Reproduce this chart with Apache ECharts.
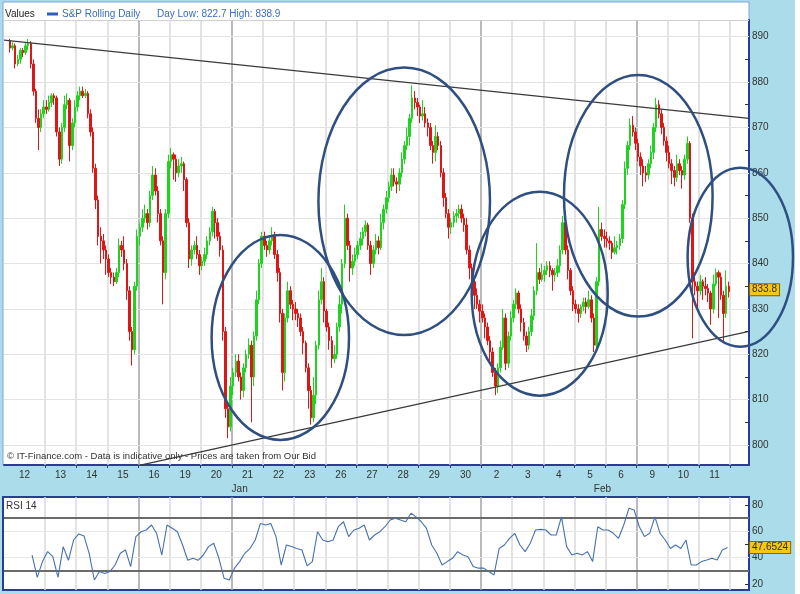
<!DOCTYPE html>
<html><head><meta charset="utf-8">
<script src="https://cdn.jsdelivr.net/npm/echarts@6/dist/echarts.min.js"></script>
<style>html,body{margin:0;padding:0;background:#aadcea;} #c{width:800px;height:594px;}</style>
</head><body><div id="c"></div>
<script>
// ---------- data ----------
const dayLabels = ['12','13','14','15','16','19','20','21','22','23','26','27','28','29','30','2','3','4','5','6','9','10','11'];
const monthLabels = ['Jan','Feb'];
const monthPos = [7.25, 18.9];           // in trading-day units
const darkDayLines = [4, 7, 15, 20];
const barsPerDay = 12;
const firstSlot = 10;                     // first bar sits late in the session before "12"
const rsiPerDay = 6;
const rsiFirstSlot = 5;
const priceLevels = [800,810,820,830,840,850,860,870,880,890];
const priceMinorTicks = [800,805,810,815,820,825,830,835,840,845,850,855,860,865,870,875,880,885,890];
const rsiLabels = [20,40,60,80];
const rsiTicks = [20,30,40,50,60,70,80];
// [open, close, low, high]
const ohlc = [
[889,887.5,886.5,889.5],[887.5,888,887,888.8],
[888,884,883,888.5],[884,885,883.5,886],[885,887,884,887.5],[887,886.5,885.5,887.5],[886.5,888,886,888.8],[888,888.5,887,889.5],
[888.5,884,883,889],[884,878,877,885],[878,872,871,878.5],[872,870,865,874],[870,873,869,874],[873,874.5,872,876],
[874.5,874,873,876],[874,875.5,873.5,877],[875.5,877,874.5,877.5],[877,876.5,875,877.5],[876.5,869,868,877],[869,863,861.5,870],
[863,870,862,871],[870,875,869,877],[875,876,874,877.5],[876,866,862.5,876.5],[866,871,865,872],[871,874.5,870,876],
[874.5,877,873.5,878],[877,878,876,879],[878,877,876.5,879],[877,877.5,876.5,878.5],[877.5,873,872,878],[873,869,868,874],
[869,861,860,870],[861,854,852,862],[854,846,844,855],[846,845,840,848],[845,843,841,846.5],[843,841,837.5,844],
[841,838,837,842],[838,837,835.5,839],[837,836,835,838],[836,838,835.5,839],[838,844,837,845.5],[844,843,841.5,845],
[843,840,838.5,846],[840,834,832,841],[834,825,823,835],[825,821,817.5,826],[821,835,820,836],[835,846,834,847.5],
[846,848,844,849],[848,850,847,852],[850,851,849,853],[851,849,847.5,852],[849,855,848,856],[855,859.5,854,861.5],
[859.5,856,855,861],[856,851,849,857],[851,845,844,852],[845,838,831,846],[838,851,836.5,852],[851,862.5,850,864],
[862.5,864,861,865.5],[864,863,858.5,864.5],[863,860,858,864],[860,861.5,859,863],[861.5,862,860,863.5],[862,858.5,856,862.5],
[858.5,849,848,859],[849,841,839,850],[841,843,839.5,844],[843,844,842,845],[844,842,841,846],[842,839.5,837.5,843],
[839.5,840.5,838.5,841.5],[840.5,842,839.5,843.5],[842,845,841,846],[845,847,844,848],[847,851.5,846,852.5],[851.5,849,845.5,852],
[849,846,845,850],[846,843,841.5,847],[843,825,823,844],[825,808,806,826],[808,804,801.5,809],[804,813,803,815],
[813,816,811,817],[816,818.5,815,820],[818.5,815,814,820],[815,812,810,816],[812,817,810.5,818],[817,820,816,821],
[820,822,819,823.5],[822,815,805,823],[815,824,813,825],[824,832,823,834],[832,840,831,841],[840,846,839,847],
[846,844,843,847],[844,843,841.5,845],[843,845,842,846],[845,846,844,848],[846,842,841,847],[842,838,836,843],
[838,829,827,839],[829,816,812,830],[816,828,814,829],[828,834,827,836],[834,831,830,835],[831,830,827.5,832],
[830,829,827.5,831.5],[829,828,826,830],[828,825,824,829],[825,822.5,820,826],[822.5,817,816,823],[817,812,808,818],
[812,806,804.5,813],[806,811,805,815],[811,822,809,823],[822,832,821,834],[832,836,831,839],[836,829.5,827,837],
[829.5,826,825,830],[826,823,821,827],[823,819,817,824],[819,820,818,822],[820,826,819,827],[826,831,825,833],
[831,840,829,841],[840,850,839,853],[850,844,843,851],[844,839,836,845],[839,840.5,837.5,842],[840.5,842,839.5,843.5],
[842,844,841,845],[844,845.5,843,847],[845.5,847,844,848],[847,848.5,846,849.5],[848.5,844,843,849],[844,840,837.5,845],
[840,843,839,844],[843,845,842,846.5],[845,843.5,842,846],[843.5,849,843,851],[849,852,847.5,853],[852,854.5,851,856],
[854.5,857,853.5,858],[857,859.5,856,861],[859.5,858,857,861],[858,857.5,855.5,859],[857.5,860,856,861],[860,863,859,864.5],
[863,866,862,867],[866,868,865,870],[868,872,866,873],[872,876.5,871,879.3],[876.5,875.5,874,878],[875.5,874.5,872.5,876.5],
[874.5,872.5,871,875],[872.5,873,871.5,876],[873,871,870,874.5],[871,870,868,872],[870,866,865,871],[866,864.5,862,867],
[864.5,868,862.5,870.5],[868,866,865,869],[866,860,859,867],[860,854.5,852.5,861],[854.5,851,850,855.5],[851,848,845.5,852],
[848,849,846.5,850],[849,850.5,848,851.5],[850.5,851,849,852],[851,852,850,853],[852,850,849,853],[850,848.5,847,851],
[848.5,843,842,850],[843,839,836.5,844],[839,836,835,840],[836,833,830,837],[833,831,830,834.5],[831,829.5,827,832],
[829.5,828,827,831],[828,826,823.5,829],[826,823,822,827],[823,820.5,818,824],[820.5,816,815,821.5],[816,813,811,817],
[813,817,811.5,818],[817,821.5,816,823],[821.5,828,821,830],[828,818,816.5,829],[818,824,817,825],[824,828,823,829.5],
[828,831,827,832],[831,833.5,830,834.5],[833.5,830,829,834],[830,827,825,831],[827,824,823,828],[824,822,820.5,825],
[822,825,821,826],[825,828.5,824,830],[828.5,834,827.5,835],[834,838,833,844.5],[838,836.5,835.5,839],[836.5,837.5,836,840],
[837.5,838.5,836,839.5],[838.5,839.5,837.5,840.5],[839.5,838.5,837,840.5],[838.5,837.5,834,839],[837.5,838,836,839],[838,839.5,837,841],
[839.5,843,838,844],[843,849,842,850.5],[849,843,842,850],[843,838.5,836.5,844],[838.5,834,833,839],[834,831,829.5,835],
[831,830,829,832],[830,829,827,831],[829,830.5,828,831],[830.5,831.5,829.5,832.5],[831.5,830.5,829,832.5],[830.5,832,830,834],
[832,828,827,833],[828,822,820.5,829],[822,836,821,837],[836,847.5,835,852.5],[847.5,846,845,849],[846,845.5,843.5,847.5],
[845.5,845,843.5,847],[845,844.5,843,846],[844.5,842.5,841,845],[842.5,843.5,842,846],[843.5,844,842,845],[844,845.5,843,846.5],
[845.5,853,844.5,854],[853,861,852,862.5],[861,866,859.5,867],[866,870.5,865,872],[870.5,869,868,872.5],[869,866.5,865,870],
[866.5,863.5,862.5,867.5],[863.5,861.5,859.5,864.5],[861.5,860,857,863],[860,859.5,858,861.5],[859.5,862,858.5,863],[862,864.5,861,866],
[864.5,870,863,871],[870,875,869,876.5],[875,873,872,876],[873,870,868.5,874],[870,867,866,871],[867,864.5,862.5,868],
[864.5,862,861,866],[862,860.5,857.5,863],[860.5,859,857,861.5],[859,862,858,864],[862,860.5,859.5,863],[860.5,859.5,856.5,861.5],
[859.5,863,858.5,864],[863,866.5,862,868],[866.5,850,849,867],[850,836,823.5,851],[836,835,833,838],[835,834,830,836],
[834,836,833,837.5],[836,835,832,836.5],[835,834.5,833,837],[834.5,833.5,831.5,835.5],[833.5,830,826.5,834],[830,835.5,829,837.5],
[835.5,838,835,838.9],[838,837,828,838.5],[837,833,832,838],[833,829,822.7,834],[829,835,828,838.5],[835,833.8,832.5,836]
];
const rsi = [
null,
null,null,null,42,25,37,
44.6,40.7,25,48.4,38,53.4,
58,56.5,43.3,23,29.4,28,
29.4,34.4,43.3,45.8,33.2,56,
59.7,61,64.8,58.5,42,64.8,
62.3,59.7,49.6,38,39.5,38,
42,48.4,51,39.5,24.3,23,
32,37,43.3,47,53.4,66,
64.8,66,56,34.4,49.6,48.4,
47,45.8,33.7,37,59.7,53.4,
52,53.4,63.5,67.3,56,61,
62.3,64.8,53.4,57.2,59.7,63.5,
68.6,70,68.6,67.3,73.7,71,
67.3,62.3,49.6,43.3,34.4,37,
39.5,44.6,42,40.7,33.2,32,
32,29.4,26.8,47,49.6,54.7,
58.5,49.6,44.6,51,61,61.5,
61,57.2,57.2,71,48.4,42,
43.3,42,44.6,37,63.5,61,
61,58.5,54.7,64.8,77.5,76.2,
63.5,56,58.5,71,58.5,53.4,
47,49.6,47,53.4,34.4,34.4,
37,38.2,39.5,38.2,45.8,47.6524
];
const upperTrend = [[-0.318, 889.25], [23.606, 872.0]];
const lowerTrend = [[4.1, 795.6], [23.606, 825.06]];
// [centre day, centre price, half width (days), half height (price)]
const ellipses = [
[8.555, 823.7, 2.206, 22.59],
[12.534, 853.72, 2.755, 29.47],
[16.885, 833.35, 2.184, 22.48],
[20.051, 854.93, 2.386, 26.63],
[23.327, 841.40, 1.692, 19.73]
];
const legendTitle = 'Values';
const seriesName = 'S&P Rolling Daily';
const dayInfo = 'Day Low: 822.7 High: 838.9';
const watermark = '\u00a9 IT-Finance.com - Data is indicative only - Prices are taken from Our Bid';
const rsiTitle = 'RSI 14';

// ---------- chart ----------
const FONT = '"Liberation Sans", Arial, sans-serif';
const NAVY = '#2b3d8f';
const xMin = -0.318, xMax = 23.606;
const slotX = (i, per, first) => -1 + (i + first + 0.5) / per;
const candleData = ohlc.map((b, i) => [slotX(i, barsPerDay, firstSlot), b[0], b[1], b[2], b[3]]);
const rsiData = rsi.map((v, i) => [slotX(i, rsiPerDay, rsiFirstSlot), v]);
const boundaries = dayLabels.map((_, d) => d + 1);
const labelPos = dayLabels.map((_, d) => d === 0 ? (xMin + 1) / 2 : d + 0.5);
const vLines = boundaries.map(d => ({xAxis: d, lineStyle: {type: 'solid', color: darkDayLines.includes(d) ? '#a3a3a3' : '#dadada', width: 1.5}}));

const chart = echarts.init(document.getElementById('c'));
chart.setOption({
  animation: false,
  grid: [
    {left: 4, top: 20, width: 745, height: 445},
    {left: 4, top: 497, width: 745, height: 93}
  ],
  xAxis: [
    {type: 'value', gridIndex: 0, min: xMin, max: xMax, position: 'bottom',
     axisLine: {show: true, onZero: false, lineStyle: {color: NAVY, width: 2}},
     axisTick: {show: true, customValues: boundaries, length: 3, lineStyle: {color: NAVY}},
     axisLabel: {customValues: labelPos, formatter: v => dayLabels[Math.floor(v)], color: '#333', fontSize: 10, fontFamily: FONT, margin: 5},
     splitLine: {show: false}},
    {type: 'value', gridIndex: 1, min: xMin, max: xMax, position: 'bottom',
     axisLine: {show: true, onZero: false, lineStyle: {color: NAVY, width: 2}},
     axisTick: {show: false}, axisLabel: {show: false}, splitLine: {show: false}}
  ],
  yAxis: [
    {type: 'value', gridIndex: 0, min: 795.59, max: 893.68, position: 'right',
     axisLine: {show: true, onZero: false, lineStyle: {color: NAVY, width: 2}},
     axisTick: {show: true, inside: true, length: 4, customValues: priceMinorTicks, lineStyle: {color: '#333'}},
     axisLabel: {customValues: priceLevels, color: '#333', fontSize: 10, fontFamily: FONT, margin: 3},
     splitLine: {show: false}},
    {type: 'value', gridIndex: 1, min: 15.4, max: 86.1, position: 'right',
     axisLine: {show: true, onZero: false, lineStyle: {color: NAVY, width: 2}},
     axisTick: {show: true, inside: true, length: 4, customValues: rsiTicks, lineStyle: {color: '#333'}},
     axisLabel: {customValues: rsiLabels, color: '#333', fontSize: 10, fontFamily: FONT, margin: 3},
     splitLine: {show: false}}
  ],
  series: [
    {type: 'line', xAxisIndex: 0, yAxisIndex: 0, data: [], silent: true,
     markLine: {z: 1, silent: true, symbol: ['none', 'none'], label: {show: false}, animation: false,
       data: vLines.concat(priceLevels.map(v => ({yAxis: v, lineStyle: {type: 'solid', color: '#e3e3e3', width: 1}})))}},
    {type: 'candlestick', xAxisIndex: 0, yAxisIndex: 0, data: candleData, barWidth: 2, z: 2,
     itemStyle: {color: '#1fd41f', color0: '#e01515', borderColor: '#1fd41f', borderColor0: '#e01515', borderWidth: 1}},
    {type: 'line', xAxisIndex: 0, yAxisIndex: 0, data: upperTrend, symbol: 'none', z: 3, silent: true,
     lineStyle: {color: '#3a3a3a', width: 1.2}},
    {type: 'line', xAxisIndex: 0, yAxisIndex: 0, data: lowerTrend, symbol: 'none', z: 3, silent: true,
     lineStyle: {color: '#3a3a3a', width: 1.2}},
    {type: 'line', xAxisIndex: 1, yAxisIndex: 1, data: [], silent: true,
     markLine: {z: 1, silent: true, symbol: ['none', 'none'], label: {show: false}, animation: false,
       data: vLines.concat([
         {yAxis: 40, lineStyle: {type: 'solid', color: '#e6e6e6', width: 1}},
         {yAxis: 60, lineStyle: {type: 'solid', color: '#e6e6e6', width: 1}},
         {yAxis: 30, lineStyle: {type: 'solid', color: '#6a6a6a', width: 2}},
         {yAxis: 70, lineStyle: {type: 'solid', color: '#6a6a6a', width: 2}}
       ])}},
    {type: 'line', xAxisIndex: 1, yAxisIndex: 1, data: rsiData, symbol: 'none', z: 3, silent: true,
     lineStyle: {color: '#4670b0', width: 1.1}}
  ]
});

// ---------- annotations ----------
const g = [];
g.push({type: 'rect', z: -10, shape: {x: 3, y: 2, width: 746, height: 463}, style: {fill: '#fff', stroke: '#7fa6d8', lineWidth: 1}});
g.push({type: 'rect', z: -10, shape: {x: 3, y: 497, width: 746, height: 93}, style: {fill: '#fff', stroke: NAVY, lineWidth: 2}});
g.push({type: 'rect', z: -9, shape: {x: 795, y: 0, width: 5, height: 594}, style: {fill: '#ffffff'}});
g.push({type: 'line', z: 1, shape: {x1: 4, y1: 20.5, x2: 749, y2: 20.5}, style: {stroke: '#d0d0d0', lineWidth: 1}});
g.push({type: 'text', z: 5, x: 5, y: 14, style: {text: legendTitle, fill: '#222', fontSize: 10, fontFamily: FONT, verticalAlign: 'middle'}});
g.push({type: 'rect', z: 5, shape: {x: 47, y: 12.5, width: 11, height: 3}, style: {fill: '#2d5fb8'}});
g.push({type: 'text', z: 5, x: 62, y: 14, style: {text: seriesName, fill: '#3a6cc0', fontSize: 10, fontFamily: FONT, verticalAlign: 'middle'}});
g.push({type: 'text', z: 5, x: 157, y: 14, style: {text: dayInfo, fill: '#3a6cc0', fontSize: 10, fontFamily: FONT, verticalAlign: 'middle'}});
g.push({type: 'text', z: 5, x: 7, y: 456, style: {text: watermark, fill: '#333', fontSize: 9.5, fontFamily: FONT, verticalAlign: 'middle'}});
g.push({type: 'text', z: 5, x: 6, y: 506, style: {text: rsiTitle, fill: '#333', fontSize: 10, fontFamily: FONT, verticalAlign: 'middle'}});
monthLabels.forEach((m, i) => {
  const p = chart.convertToPixel({xAxisIndex: 0, yAxisIndex: 0}, [monthPos[i], 800]);
  g.push({type: 'text', z: 5, x: p[0], y: 489, style: {text: m, fill: '#333', fontSize: 10, fontFamily: FONT, align: 'center', verticalAlign: 'middle'}});
});
ellipses.forEach(e => {
  const c = chart.convertToPixel({xAxisIndex: 0, yAxisIndex: 0}, [e[0], e[1]]);
  const q = chart.convertToPixel({xAxisIndex: 0, yAxisIndex: 0}, [e[0] + e[2], e[1] + e[3]]);
  g.push({type: 'ellipse', z: 20, silent: true, shape: {cx: c[0], cy: c[1], rx: q[0] - c[0], ry: c[1] - q[1]},
          style: {fill: 'none', stroke: '#2f4f80', lineWidth: 2.5}});
});
const lastClose = ohlc[ohlc.length - 1][1];
const pc = chart.convertToPixel({xAxisIndex: 0, yAxisIndex: 0}, [xMax, lastClose]);
g.push({type: 'text', z: 21, x: 750, y: pc[1] - 2, style: {text: lastClose.toFixed(1), fill: '#333', fontSize: 10, fontFamily: FONT,
  verticalAlign: 'middle', backgroundColor: '#f5c518', borderColor: '#8a6a00', borderWidth: 1, padding: [1, 2, 0, 2]}});
const lastRsi = rsi[rsi.length - 1];
const pr = chart.convertToPixel({xAxisIndex: 1, yAxisIndex: 1}, [xMax, lastRsi]);
g.push({type: 'text', z: 21, x: 750, y: pr[1], style: {text: lastRsi.toFixed(4), fill: '#333', fontSize: 10, fontFamily: FONT,
  verticalAlign: 'middle', backgroundColor: '#f5c518', borderColor: '#8a6a00', borderWidth: 1, padding: [1, 2, 0, 2]}});
chart.setOption({graphic: {elements: g}});
</script>
</body></html>
